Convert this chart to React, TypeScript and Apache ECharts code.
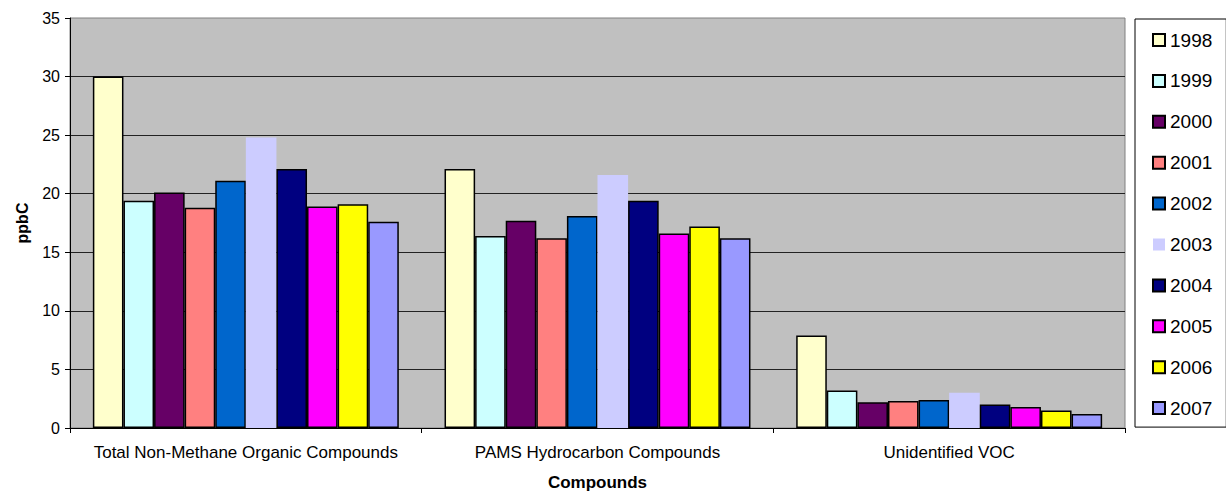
import React, { useEffect, useRef } from "react";
import * as echarts from "echarts";

const categories = [
  "Total Non-Methane Organic Compounds",
  "PAMS Hydrocarbon Compounds",
  "Unidentified VOC",
];

const years = ["1998", "1999", "2000", "2001", "2002", "2003", "2004", "2005", "2006", "2007"];

const values1998 = [30.0, 22.1, 7.9];
const values1999 = [19.4, 16.4, 3.2];
const values2000 = [20.1, 17.7, 2.2];
const values2001 = [18.8, 16.2, 2.3];
const values2002 = [21.1, 18.1, 2.4];
const values2003 = [24.8, 21.6, 3.0];
const values2004 = [22.1, 19.4, 2.0];
const values2005 = [18.9, 16.6, 1.8];
const values2006 = [19.1, 17.2, 1.5];
const values2007 = [17.6, 16.2, 1.2];

const seriesValues = [
  values1998, values1999, values2000, values2001, values2002,
  values2003, values2004, values2005, values2006, values2007,
];

const colors = [
  "#FFFFCC", "#CCFFFF", "#660066", "#FF8080", "#0066CC",
  "#CCCCFF", "#000080", "#FF00FF", "#FFFF00", "#9999FF",
];

const yTicks = { min: 0, max: 35, interval: 5 };

const FONT = "Arial, 'Liberation Sans', sans-serif";

export default function App() {
  const ref = useRef<HTMLDivElement>(null);

  useEffect(() => {
    if (!ref.current) return;
    const chart = echarts.init(ref.current, undefined, { renderer: "svg" });
    const series = years.map((y, i) => ({
      name: y,
      type: "bar",
      data: seriesValues[i],
      barGap: "0%",
      barCategoryGap: "13%",
      itemStyle: {
        color: colors[i],
        borderColor: "#000",
        borderWidth: y === "2003" ? 0 : 1.5,
      },
    }));
    chart.setOption({
      animation: false,
      textStyle: { fontFamily: FONT },
      grid: {
        left: 70,
        right: 101,
        top: 18,
        bottom: 65,
        containLabel: false,
        outerBoundsMode: "none",
        show: true,
        backgroundColor: "#C0C0C0",
        borderColor: "#808080",
        borderWidth: 1,
      },
      legend: {
        orient: "vertical",
        left: 1135,
        top: 19,
        padding: [11, 14, 9, 17],
        itemGap: 20.9,
        itemWidth: 12,
        itemHeight: 12,
        icon: "rect",
        borderColor: "#000",
        borderWidth: 1,
        backgroundColor: "#fff",
        textStyle: { fontSize: 19, color: "#000", fontFamily: FONT, lineHeight: 20 },
        data: years,
      },
      xAxis: {
        type: "category",
        data: categories,
        axisLine: { show: true, lineStyle: { color: "#000", width: 1 } },
        axisTick: { show: true, length: 5, lineStyle: { color: "#000" } },
        axisLabel: {
          interval: 0,
          hideOverlap: false,
          fontSize: 17,
          color: "#000",
          margin: 16,
          fontFamily: FONT,
        },
        name: "Compounds",
        nameLocation: "middle",
        nameGap: 46,
        nameTextStyle: { fontSize: 17, fontWeight: "bold", color: "#000", fontFamily: FONT },
      },
      yAxis: {
        type: "value",
        min: yTicks.min,
        max: yTicks.max,
        interval: yTicks.interval,
        axisLine: { show: true, lineStyle: { color: "#000", width: 1 } },
        axisTick: { show: true, length: 5, lineStyle: { color: "#000" } },
        axisLabel: { fontSize: 16, color: "#000", margin: 10, fontFamily: FONT },
        splitLine: { show: true, showMaxLine: false, lineStyle: { color: "#222", width: 1 } },
        name: "ppbC",
        nameLocation: "middle",
        nameRotate: 90,
        nameGap: 40,
        nameTextStyle: { fontSize: 16, fontWeight: "bold", color: "#000", fontFamily: FONT },
      },
      series,
    });
    return () => chart.dispose();
  }, []);

  return (
    <div
      ref={ref}
      style={{ position: "absolute", left: 0, top: 0, width: 1226, height: 493, background: "#fff" }}
    />
  );
}
